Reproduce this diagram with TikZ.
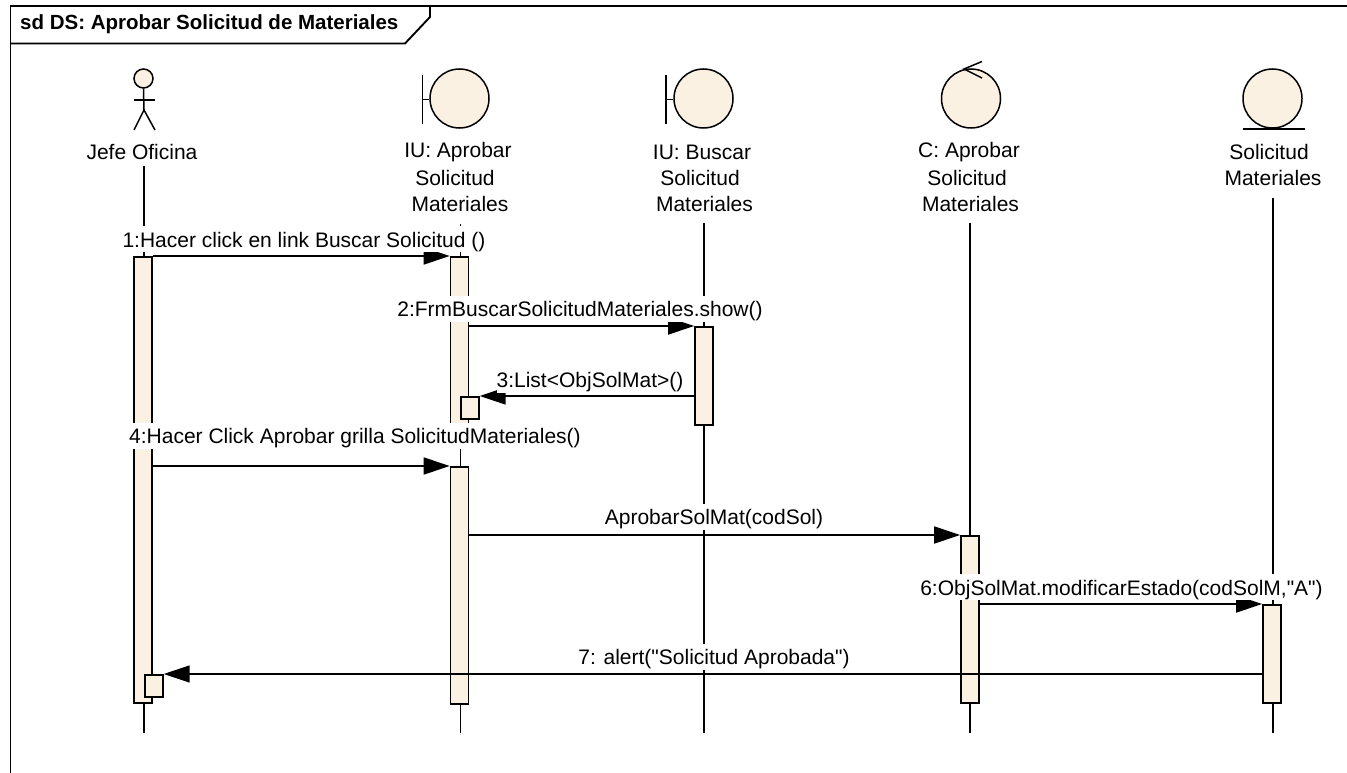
\documentclass[tikz,border=0pt]{standalone}
\usepackage{fontspec}
\setmainfont{Liberation Sans}[Ligatures=TeXOff]
\usetikzlibrary{arrows.meta,shapes.geometric}
\definecolor{umlfill}{HTML}{FBF1E3}
\tikzset{
  fr/.style={draw=black,line width=1.9pt},
  ln/.style={draw=black,line width=1.5pt},
  life/.style={draw=black,line width=1.4pt},
  act/.style={rectangle,draw=black,line width=1.7pt,fill=umlfill,minimum width=18pt,inner sep=0pt,anchor=north},
  selfbox/.style={rectangle,draw=black,line width=1.7pt,fill=umlfill,minimum width=18pt,minimum height=22pt,inner sep=0pt,anchor=north west},
  icon/.style={circle,draw=black,line width=1.5pt,fill=umlfill,inner sep=0pt,minimum size=59pt},
  msg/.style={draw=black,line width=1.7pt,-{Triangle[length=26pt,width=17pt]},shorten >=0pt},
  objlab/.style={font=\fontsize{21}{25.7}\selectfont,fill=white,inner sep=0pt,anchor=center},
  msglab/.style={font=\fontsize{21}{24}\selectfont,fill=white,inner sep=0pt,text height=20.7pt,text depth=5.3pt},
}
\begin{document}
\begin{tikzpicture}[x=1pt,y=-1pt]
\useasboundingbox (0,0) rectangle (1347,773);
\fill[white] (0,0) rectangle (1347,773);
% frame
\draw[fr] (1347,6) -- (10.5,6) -- (10.5,773);
\draw[fr] (10.5,43.5) -- (405,43.5) -- (430,17) -- (430,6);
\node[font=\fontsize{20.5}{24}\selectfont\bfseries,anchor=west,inner sep=0pt] (title) at (20,24.5) {sd DS: Aprobar Solicitud de Materiales};
% lifeline ends
\coordinate (t1) at (144,166); \coordinate (b1) at (144,733);
\coordinate (t2) at (460.5,224); \coordinate (b2) at (460.5,733);
\coordinate (t3) at (704,223); \coordinate (b3) at (704,733);
\coordinate (t4) at (970,223); \coordinate (b4) at (970,733);
\coordinate (t5) at (1273,198); \coordinate (b5) at (1273,733);
\draw[life] (t1) -- (b1);
\draw[life] (t2) -- (b2);
\draw[life] (t3) -- (b3);
\draw[life] (t4) -- (b4);
\draw[life] (t5) -- (b5);
% object labels
\node[objlab] (o1) at (142,152) {Jefe Oficina};
\node[objlab] (o2a) at (458,152) {IU: Aprobar};
\node[objlab] (o2b) at (455,178) {Solicitud};
\node[objlab] (o2c) at (460,204) {Materiales};
\node[objlab] (o3a) at (702,152) {IU: Buscar};
\node[objlab] (o3b) at (700,178) {Solicitud};
\node[objlab] (o3c) at (704.5,204) {Materiales};
\node[objlab] (o4a) at (969,152) {C: Aprobar};
\node[objlab] (o4b) at (967,178) {Solicitud};
\node[objlab] (o4c) at (970.5,204) {Materiales};
\node[objlab] (o5a) at (1269,152) {Solicitud};
\node[objlab] (o5b) at (1273,178) {Materiales};
% actor
\node[circle,draw=black,line width=1.5pt,fill=umlfill,minimum size=19pt,inner sep=0pt] (head) at (143.5,78.5) {};
\coordinate (hip) at (144,110);
\coordinate (armL) at (134,100); \coordinate (armR) at (155,100);
\coordinate (legL) at (134,130); \coordinate (legR) at (155,130);
\draw[ln] (head.south) -- (hip);
\draw[ln] (armL) -- (armR);
\draw[ln] (legL) -- (hip) -- (legR);
% boundary 1
\node[icon] (ic2) at (459.5,98.5) {};
\coordinate (bar2a) at (422.5,75); \coordinate (bar2b) at (422.5,124); \coordinate (bar2c) at (422.5,99.5);
\draw[ln] (bar2a) -- (bar2b);
\draw[ln] (bar2c) -- (ic2.west |- bar2c);
% boundary 2
\node[icon] (ic3) at (703.5,98.5) {};
\coordinate (bar3a) at (666,75); \coordinate (bar3b) at (666,124); \coordinate (bar3c) at (666,99.5);
\draw[ln] (bar3a) -- (bar3b);
\draw[ln] (bar3c) -- (ic3.west |- bar3c);
% control
\node[icon] (ic4) at (971,98.5) {};
\coordinate (ct) at (964,69); \coordinate (ca) at (982,61.5); \coordinate (cb) at (982,78);
\draw[ln] (ca) -- (ct) -- (cb);
% entity
\node[icon] (ic5) at (1272.5,98.5) {};
\coordinate (ea) at (1243,129.5); \coordinate (eb) at (1305,129.5);
\draw[draw=black,line width=2pt] (ea) -- (eb);
% activations
\node[act,minimum height=446pt] (a1) at (143,256) {};
\node[act,minimum height=172pt] (a2) at (459.5,256) {};
\node[act,minimum height=237pt] (a2b) at (459.5,466) {};
\node[act,minimum height=98pt] (a3) at (704,326) {};
\node[act,minimum height=167pt] (a4) at (970,535) {};
\node[act,minimum height=98pt] (a5) at (1272,604) {};
\node[selfbox] (s2) at (460,396) {};
\node[selfbox] (s1) at (144,674) {};
% messages
\draw[msg] (a1.north east) -- (a2.north west);
\draw[msg] (a2.east |- a3.north) -- (a3.north west);
\draw[msg] (a3.west |- s2.north east) -- (s2.north east);
\draw[msg] (a1.east |- a2b.north west) -- (a2b.north west);
\draw[msg] (a2b.east |- a4.north) -- (a4.north west);
\draw[msg] (a4.east |- a5.north) -- (a5.north west);
\draw[msg] (a5.west |- s1.north east) -- (s1.north east);
% message labels
\node[msglab] (m1) at (304,239.3) {1:Hacer click en link Buscar Solicitud ()};
\node[msglab] (m2) at (580,309) {2:FrmBuscarSolicitudMateriales.show()};
\node[msglab] (m3) at (590,380) {3:List<ObjSolMat>()};
\node[msglab] (m4) at (355,435.5) {4:Hacer Click Aprobar grilla SolicitudMateriales()};
\node[msglab] (m5) at (714,517) {AprobarSolMat(codSol)};
\node[msglab] (m6) at (1121.5,587.3) {6:ObjSolMat.modificarEstado(codSolM,"A")};
\node[msglab] (m7) at (714,657) {7: alert("Solicitud Aprobada")};
\end{tikzpicture}
\end{document}
